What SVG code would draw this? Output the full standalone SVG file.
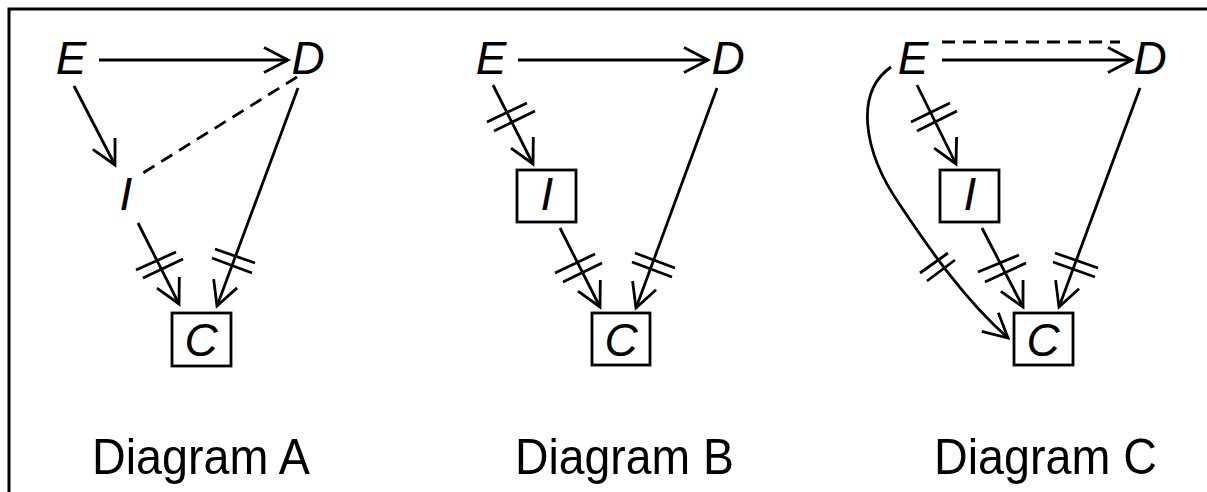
<svg xmlns="http://www.w3.org/2000/svg" width="1207" height="492" viewBox="0 0 1207 492">
<style>
.bg{fill:#ffffff}
.frame{fill:none;stroke:#000;stroke-width:3}
.v{font-family:"Liberation Sans",Arial,sans-serif;font-style:italic;font-size:46px;fill:#000;text-anchor:middle}
.lab{font-family:"Liberation Sans",Arial,sans-serif;font-size:50px;fill:#000}
.box{fill:none;stroke:#000;stroke-width:2.8}
.e{fill:none;stroke:#000;stroke-width:2.8;stroke-linecap:butt}
.arr{marker-end:url(#head)}
.dash{stroke-dasharray:13 8}
.hash{fill:none;stroke:#000;stroke-width:2.8}
</style>
<defs>
<marker id="head" markerUnits="userSpaceOnUse" markerWidth="30" markerHeight="30" viewBox="-26 -15 30 30" refX="0" refY="0" orient="auto" overflow="visible">
<path d="M-24,-12.5 L0,0 L-24,12.5" fill="none" stroke="#000" stroke-width="2.8"/>
</marker>
</defs>
<rect class="bg" x="0" y="0" width="1207" height="492"/>
<path class="frame" d="M9,492 L9,9 L1207,9"/>

<g id="connectors">
<!-- Diagram A -->
<line class="e arr" x1="99" y1="60" x2="288" y2="60"/>
<line class="e arr" x1="74" y1="86" x2="115" y2="165"/>
<line class="e dash" x1="297" y1="77" x2="143" y2="173"/>
<line class="e arr" x1="138" y1="223" x2="179" y2="304"/>
<line class="e arr" x1="298" y1="88" x2="217" y2="306"/>
<path class="hash" d="M136,270 L176,252 M143,278 L183,259"/>
<path class="hash" d="M215,249 L255,263 M212,258 L252,273"/>
<!-- Diagram B -->
<line class="e arr" x1="518" y1="60" x2="708" y2="60"/>
<line class="e arr" x1="493" y1="85" x2="533" y2="164"/>
<line class="e arr" x1="560" y1="228" x2="600" y2="307"/>
<line class="e arr" x1="717" y1="88" x2="636" y2="308"/>
<path class="hash" d="M487,122 L527,103 M494,131 L535,111"/>
<path class="hash" d="M555,273 L595,254 M563,282 L602,263"/>
<path class="hash" d="M635,253 L675,268 M632,262 L672,277"/>
<!-- Diagram C -->
<line class="e dash" x1="942" y1="42" x2="1120" y2="42"/>
<line class="e arr" x1="942" y1="60" x2="1132" y2="60"/>
<line class="e arr" x1="917" y1="85" x2="956" y2="164"/>
<line class="e arr" x1="982" y1="228" x2="1023" y2="307"/>
<line class="e arr" x1="1140" y1="88" x2="1059" y2="307"/>
<path class="e arr" d="M891,67 C855,92 862,150 900,205 C930,250 965,300 1008,338"/>
<path class="hash" d="M911,122 L950,103 M917,131 L957,111"/>
<path class="hash" d="M978,272 L1019,255 M985,282 L1026,263"/>
<path class="hash" d="M1055,253 L1098,268 M1053,262 L1095,277"/>
<path class="hash" d="M920,273 L948,253 M927,281 L955,260"/>
</g>

<g id="A-E"><text class="v" x="71" y="74">E</text></g>
<g id="A-D"><text class="v" x="308" y="74">D</text></g>
<g id="A-I"><text class="v" x="126" y="210">I</text></g>
<g id="A-C"><rect class="box" x="172" y="313" width="59" height="53"/><text class="v" x="201" y="356">C</text></g>

<g id="B-E"><text class="v" x="491" y="74">E</text></g>
<g id="B-D"><text class="v" x="728" y="74">D</text></g>
<g id="B-I"><rect class="box" x="517" y="170" width="59" height="52"/><text class="v" x="547" y="210">I</text></g>
<g id="B-C"><rect class="box" x="592" y="313" width="58" height="52"/><text class="v" x="621" y="356">C</text></g>

<g id="C-E"><text class="v" x="913" y="74">E</text></g>
<g id="C-D"><text class="v" x="1150" y="74">D</text></g>
<g id="C-I"><rect class="box" x="940" y="170" width="59" height="52"/><text class="v" x="970" y="210">I</text></g>
<g id="C-C"><rect class="box" x="1014" y="313" width="59" height="52"/><text class="v" x="1043" y="356">C</text></g>

<g id="labels">
<text class="lab" x="92" y="474" textLength="218" lengthAdjust="spacingAndGlyphs">Diagram A</text>
<text class="lab" x="515" y="474" textLength="219" lengthAdjust="spacingAndGlyphs">Diagram B</text>
<text class="lab" x="934" y="474" textLength="223" lengthAdjust="spacingAndGlyphs">Diagram C</text>
</g>
</svg>
